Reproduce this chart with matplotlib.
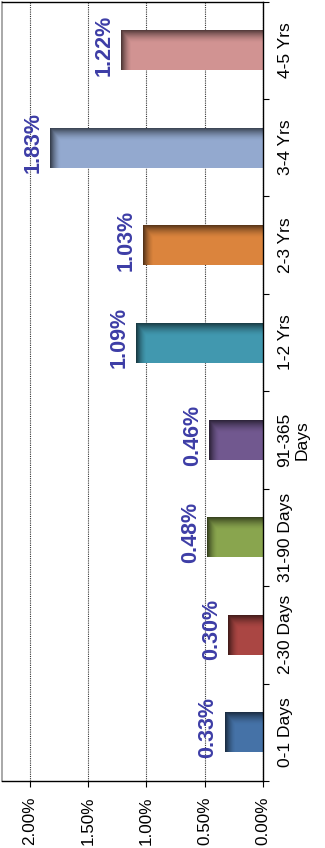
import numpy as np
import matplotlib
matplotlib.use('Agg')
from matplotlib import pyplot as plt

categories = ['0-1 Days', '2-30 Days', '31-90 Days', '91-365\nDays',
              '1-2 Yrs', '2-3 Yrs', '3-4 Yrs', '4-5 Yrs']
values = [0.33, 0.30, 0.48, 0.46, 1.09, 1.03, 1.83, 1.22]
colors = ['#4572A7', '#AA4643', '#89A54E', '#71588F',
          '#4198AF', '#DB843D', '#93A9CF', '#D19392']
value_ticks = [0.0, 0.5, 1.0, 1.5, 2.0]

plt.rcParams['font.family'] = ['Liberation Sans', 'DejaVu Sans']

fig = plt.figure(figsize=(3.25, 8.48), dpi=100)
ax = fig.add_axes([2 / 325, 67 / 848, 261 / 325, 779.5 / 848])

y = np.arange(len(categories))
bars = ax.barh(y, values, height=0.41, color=colors, zorder=2)

# dark bevel along the upper edge and the far end of each bar
for b in bars:
    x1 = b.get_width()
    y0, h = b.get_y(), b.get_height()
    u = np.linspace(0, x1, 300)          # distance from the far end
    v = np.linspace(0, 1, 60)            # fraction down from the top edge
    a_end = 0.65 * np.clip(1 - u / 0.09, 0, 1) ** 1.6
    a_top = 0.6 * np.clip(1 - v / 0.32, 0, 1) ** 1.6
    alpha = np.maximum(a_end[None, :], a_top[:, None])
    img = np.zeros((60, 300, 4))
    img[..., 3] = alpha
    ax.imshow(img, extent=(x1, 0, y0, y0 + h), origin='upper',
              aspect='auto', interpolation='bilinear', zorder=3)

for i, val in enumerate(values):
    ax.annotate(f'{val:.2f}%', xy=(val, i), xytext=(-6, 5),
                textcoords='offset pixels', rotation=90,
                ha='right', va='center', fontsize=15.5,
                fontweight='bold', color='#3D3DA6', zorder=4)

ax.set_xlim(2.24, 0)
ax.set_ylim(-0.5, 7.5)

ax.set_xticks(value_ticks)
ax.set_xticklabels([f'{t:.2f}%' for t in value_ticks], rotation=90)
ax.xaxis.grid(True, linestyle=(0, (1, 1)), color='#333333', lw=0.8, zorder=1)
ax.set_axisbelow(True)
ax.tick_params(axis='x', direction='out', length=4, width=0.8, pad=7.5,
               labelsize=12.3, colors='black')

ax.yaxis.tick_right()
ax.set_yticks(y)
ax.set_yticklabels(categories, rotation=90, va='center', ha='left',
                   multialignment='center')
ax.set_yticks(np.arange(-0.5, 8, 1), minor=True)
ax.tick_params(axis='y', which='major', length=0, pad=10.5, labelsize=12.5)
ax.tick_params(axis='y', which='minor', direction='out', length=4, width=0.8)

for side in ['top', 'right', 'bottom']:
    ax.spines[side].set_color('black')
    ax.spines[side].set_linewidth(1.0)
ax.spines['left'].set_color('#999999')
ax.spines['left'].set_linewidth(1.2)

fig.savefig('out.png', dpi=100)
